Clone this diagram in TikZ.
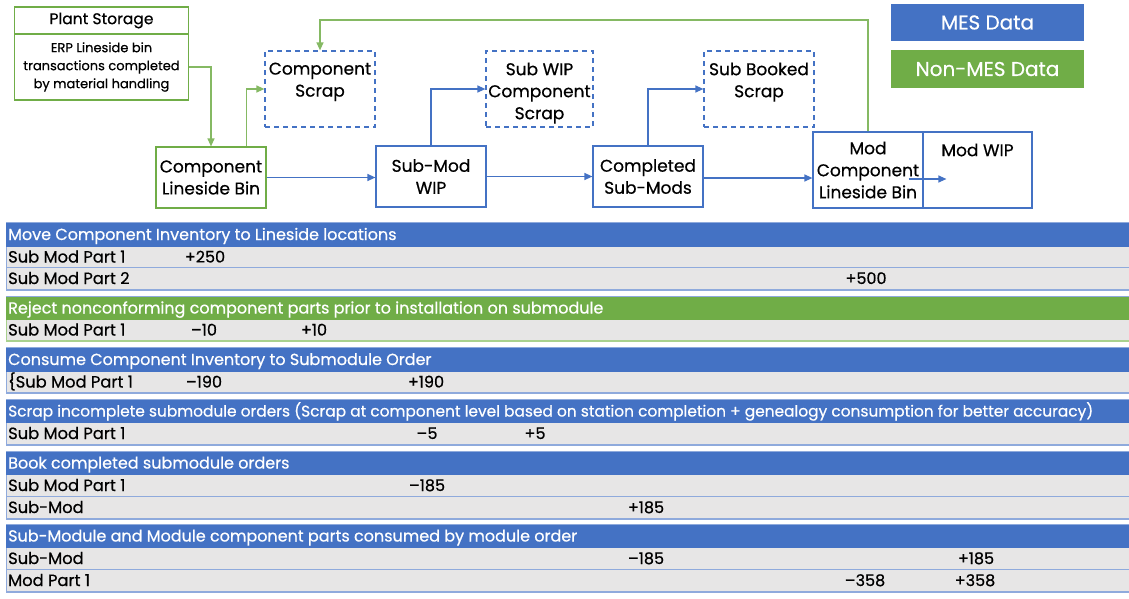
\documentclass[tikz,border=0pt]{standalone}
\usepackage{fontspec}
\setmainfont{Poppins}[FakeBold=0.6]
\usetikzlibrary{arrows.meta,calc}

\definecolor{mesblue}{HTML}{4472C4}
\definecolor{nongreen}{HTML}{70AD47}
\definecolor{lightgreen}{HTML}{A9D18E}
\definecolor{rowgray}{HTML}{E7E6E6}
\definecolor{rowline}{HTML}{8FAADC}

% section header bar: name, top, bottom, colour, title
\newcommand\secbar[5]{%
  \fill[#4] (6,#2) rectangle (1129,#3);
  \draw[rowline,line width=1pt] (6,{#2-0.5}) -- (1129,{#2-0.5});
  \node[hdrtext] (#1) at (8,{(#2+#3)/2+1}) {#5};}
% data row: name, top, bottom, rule colour, label
\newcommand\partrow[5]{%
  \fill[rowgray] (6,#2) rectangle (1129,#3);
  \draw[#4,line width=1.6pt] (6,#3) -- (1129,#3);
  \draw[#4,line width=1pt] (6.5,#2) -- (6.5,#3);
  \node[rowtext] (#1) at (8,{(#2+#3)/2+1}) {#5};}
% quantity in a row: name, x, y, text
\newcommand\cellval[4]{\node[valtext] (#1) at (#2,{#3+1}) {#4};}

\begin{document}
\begin{tikzpicture}[x=1pt,y=-1pt,
  boxfont/.style={font=\fontsize{17}{22}\selectfont},
  box/.style={draw=mesblue,line width=1.2pt,inner sep=0pt,align=center,
    minimum width=110pt,minimum height=61pt,boxfont},
  gbox/.style={box,draw=nongreen},
  dbox/.style={box,dash pattern=on 5pt off 4pt,minimum height=76pt},
  toptext/.style={anchor=north,align=center,inner sep=0pt,yshift=-12pt,boxfont},
  barrow/.style={draw=mesblue,line width=1.2pt,-{Triangle[length=8pt,width=7pt]}},
  garrow/.style={draw=nongreen!85,line width=1.2pt,-{Triangle[length=8pt,width=7pt]}},
  legend/.style={inner sep=0pt,minimum width=193pt,text=white,
    font=\fontsize{20}{24}\selectfont},
  hdrtext/.style={anchor=west,inner sep=0pt,text=white,text height=11pt,text depth=3pt,
    font=\fontsize{16}{18}\selectfont},
  rowtext/.style={hdrtext,text=black,font=\fontsize{16.3}{18}\selectfont},
  valtext/.style={inner sep=0pt,text height=11pt,text depth=3pt,
    font=\fontsize{16}{18}\selectfont}]
\useasboundingbox (0,0) rectangle (1129,598);

% ---- flow of material ----
\node[gbox,minimum width=174pt,minimum height=27pt,font=\fontsize{15.5}{18}\selectfont]
  (ps) at (101.5,20.5) {Plant Storage};
\node[gbox,minimum width=174pt,minimum height=66pt,font=\fontsize{13}{18}\selectfont]
  (erp) at (101.5,67) {ERP Lineside bin\\transactions completed\\by material handling};
\node[gbox] (clb) at (211,177.5) {Component\\Lineside Bin};
\node[dbox,label={[toptext]north:Component\\Scrap}] (cs) at (320,89) {};
\node[box] (smw) at (431,176.5) {Sub-Mod\\WIP};
\node[dbox,minimum width=107pt,label={[toptext]north:Sub WIP\\Component\\Scrap}] (swcs) at (539.5,89) {};
\node[box] (csm) at (648,176.5) {Completed\\Sub-Mods};
\node[dbox,label={[toptext]north:Sub Booked\\Scrap}] (sbs) at (759,89) {};
\node[box,minimum height=76pt] (mcb) at (868,170) {Mod\\Component\\Lineside Bin};
\node[box,minimum width=109pt,minimum height=76pt,label={[toptext]north:Mod WIP}] (mwip) at (977.5,170) {};

\node[legend,fill=mesblue,minimum height=37pt] (lmes) at (987.5,22.5) {MES Data};
\node[legend,fill=nongreen,minimum height=38pt] (lnon) at (987.5,69) {Non-MES Data};

\coordinate (ret) at (0,20);
\draw[garrow] (erp.east) -| (clb.north);
\draw[garrow] ([xshift=-20pt]clb.north east) |- (cs.west);
\draw[garrow] (mcb.north) |- (ret -| cs.north) -- (cs.north);
\draw[barrow] (clb.east) -- (clb.east -| smw.west);
\draw[barrow] (smw.north) |- (swcs.west);
\draw[barrow] (smw.east) -- (smw.east -| csm.west);
\draw[barrow] (csm.north) |- (sbs.west);
\draw[barrow] ([yshift=-1.5pt]csm.east) -- ([yshift=-1.5pt]csm.east -| mcb.west);
\draw[barrow] ([xshift=-15pt,yshift=-9pt]mcb.east) -- ([xshift=24pt,yshift=-9pt]mwip.west);

% ---- inventory movements ----
\secbar{h1}{223}{247}{mesblue}{Move Component Inventory to Lineside locations}
\partrow{r11}{247}{268}{rowline}{Sub Mod Part 1}
\partrow{r12}{268}{290}{rowline}{Sub Mod Part 2}
\cellval{v11}{205}{257.5}{+250}
\cellval{v12}{866}{279}{+500}

\secbar{h2}{297}{320}{nongreen}{Reject nonconforming component parts prior to installation on submodule}
\partrow{r21}{320}{341}{lightgreen}{Sub Mod Part 1}
\cellval{v21}{204}{330.5}{–10}
\cellval{v22}{314}{330.5}{+10}

\secbar{h3}{348}{372}{mesblue}{Consume Component Inventory to Submodule Order}
\partrow{r31}{372}{393}{rowline}{\{Sub Mod Part 1}
\cellval{v31}{204}{382.5}{–190}
\cellval{v32}{426}{382.5}{+190}

\secbar{h4}{400}{423}{mesblue}{\fontsize{15.4}{18}\selectfont Scrap incomplete submodule orders (Scrap at component level based on station completion + genealogy consumption for better accuracy)}
\partrow{r41}{423}{445}{rowline}{Sub Mod Part 1}
\cellval{v41}{427}{434}{–5}
\cellval{v42}{535}{434}{+5}

\secbar{h5}{452}{475}{mesblue}{Book completed submodule orders}
\partrow{r51}{475}{497}{rowline}{Sub Mod Part 1}
\partrow{r52}{497}{519}{rowline}{Sub-Mod}
\cellval{v51}{427}{486}{–185}
\cellval{v52}{646}{508}{+185}

\secbar{h6}{525}{548}{mesblue}{Sub-Module and Module component parts consumed by module order}
\partrow{r61}{548}{570}{rowline}{Sub-Mod}
\partrow{r62}{570}{592}{rowline}{Mod Part 1}
\cellval{v61}{646}{559}{–185}
\cellval{v62}{976}{559}{+185}
\cellval{v63}{865}{581}{–358}
\cellval{v64}{975}{581}{+358}
\end{tikzpicture}
\end{document}
